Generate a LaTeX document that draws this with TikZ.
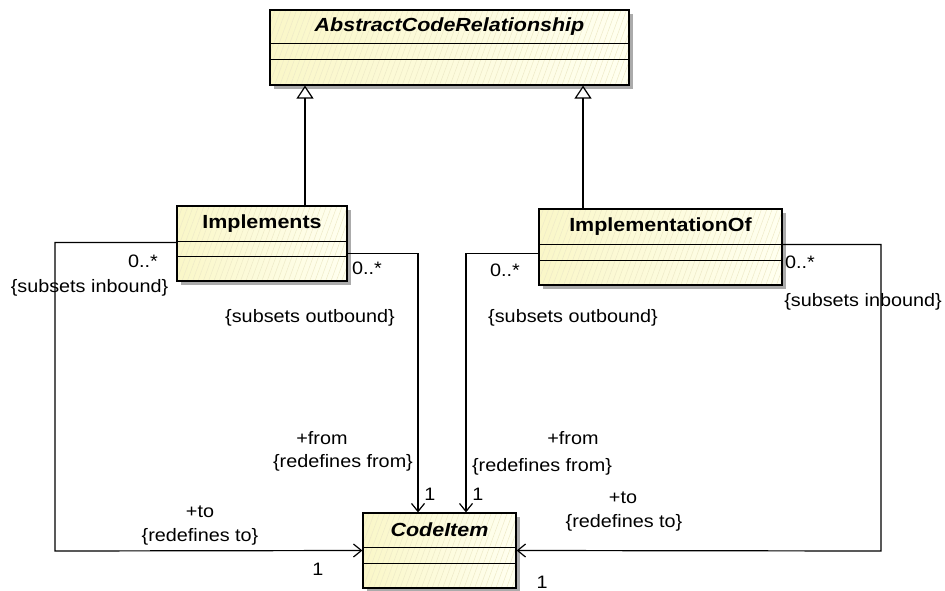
\documentclass[tikz,border=0pt]{standalone}
\usepackage{fontspec}
\setmainfont{Liberation Sans}
\newfontfamily\lblfont[FakeStretch=1.1]{Liberation Sans}
\newfontfamily\nmfont[FakeStretch=1.13]{Liberation Sans}
\usetikzlibrary{arrows.meta,shadows,patterns.meta,calc}
\definecolor{boxL}{RGB}{250,247,200}
\definecolor{boxR}{RGB}{255,255,240}
\definecolor{hatch}{RGB}{238,234,200}
\begin{document}
\begin{tikzpicture}[x=1pt,y=-1pt,
  cls/.style={line width=1.2pt, rectangle, inner sep=0pt,
    left color=boxL, right color=boxR,
    drop shadow={shadow xshift=4pt, shadow yshift=-4pt, fill=black!33, opacity=1},
    postaction={pattern={Lines[angle=70,distance=5pt,line width=0.5pt]}, pattern color=hatch},
    postaction={draw, line width=1.2pt}},
  clsname/.style={font=\nmfont\bfseries\fontsize{19}{22}\selectfont, inner sep=0pt},
  lbl/.style={font=\lblfont\fontsize{18}{21}\selectfont, inner sep=0pt},
  divider/.style={line width=1.2pt},
  assoc/.style={line width=1.2pt, -{Straight Barb[length=8pt,width=13pt,line width=1.2pt]}},
  gen/.style={line width=1.2pt, -{Triangle[open,length=13pt,width=17pt,fill=white,line width=1.2pt]}}
]
\useasboundingbox (0,0) rectangle (945,591);

% classes
\node[cls, minimum width=359pt, minimum height=75pt] (acr) at (449.5,47.5) {};
\node[cls, minimum width=170pt, minimum height=75pt] (impl) at (262,243.5) {};
\node[cls, minimum width=243pt, minimum height=76pt] (implof) at (660.5,247) {};
\node[cls, minimum width=153pt, minimum height=75pt] (ci) at (439.5,550.5) {};

% compartments
\draw[divider] ([yshift=-34pt]acr.north west) -- ([yshift=-34pt]acr.north east);
\draw[divider] ([yshift=-50pt]acr.north west) -- ([yshift=-50pt]acr.north east);
\draw[divider] ([yshift=-36pt]impl.north west) -- ([yshift=-36pt]impl.north east);
\draw[divider] ([yshift=-51pt]impl.north west) -- ([yshift=-51pt]impl.north east);
\draw[divider] ([yshift=-36pt]implof.north west) -- ([yshift=-36pt]implof.north east);
\draw[divider] ([yshift=-52pt]implof.north west) -- ([yshift=-52pt]implof.north east);
\draw[divider] ([yshift=-35pt]ci.north west) -- ([yshift=-35pt]ci.north east);
\draw[divider] ([yshift=-51pt]ci.north west) -- ([yshift=-51pt]ci.north east);

% names
\node[clsname] (acrname) at ([yshift=-17pt]acr.north) {\itshape AbstractCodeRelationship};
\node[clsname] (implname) at ([yshift=-18pt]impl.north) {Implements};
\node[clsname] (implofname) at ([yshift=-18pt]implof.north) {ImplementationOf};
\node[clsname] (ciname) at ([yshift=-17pt]ci.north) {\itshape CodeItem};

% generalizations
\draw[gen] ([xshift=43pt]impl.north) -- ([xshift=-144.5pt]acr.south);
\draw[gen] ([xshift=-77.5pt]implof.north) -- ([xshift=133.5pt]acr.south);

% associations
\draw[assoc] ([yshift=-37pt]impl.north west) -| (55,551) -- (ci.west);
\draw[assoc] ([yshift=-48pt]impl.north east) -| ([xshift=-21.5pt]ci.north);
\draw[assoc] ([yshift=-45pt]implof.north west) -| ([xshift=26.5pt]ci.north);
\draw[assoc] ([yshift=-36pt]implof.north east) -| (881,551) -- (ci.east);

% labels
\node[lbl] (m1) at (143,261) {0..*};
\node[lbl] (s1) at (89.5,288) {\{subsets inbound\}};
\node[lbl] (t1) at (200,512) {+to};
\node[lbl] (r1) at (200,537) {\{redefines to\}};
\node[lbl] (o1) at (318,569) {1};

\node[lbl] (m2) at (367,268) {0..*};
\node[lbl] (s2) at (310,318) {\{subsets outbound\}};
\node[lbl] (f2) at (322,438) {+from};
\node[lbl] (r2) at (343,463) {\{redefines from\}};
\node[lbl] (o2) at (430,494) {1};

\node[lbl] (m3) at (505,270) {0..*};
\node[lbl] (s3) at (573,318) {\{subsets outbound\}};
\node[lbl] (f3) at (573,438) {+from};
\node[lbl] (r3) at (542,467) {\{redefines from\}};
\node[lbl] (o3) at (478,494) {1};

\node[lbl] (m4) at (800,262) {0..*};
\node[lbl] (s4) at (863,302) {\{subsets inbound\}};
\node[lbl] (t4) at (623,498) {+to};
\node[lbl] (r4) at (624,523) {\{redefines to\}};
\node[lbl] (o4) at (542,582) {1};
\end{tikzpicture}
\end{document}
